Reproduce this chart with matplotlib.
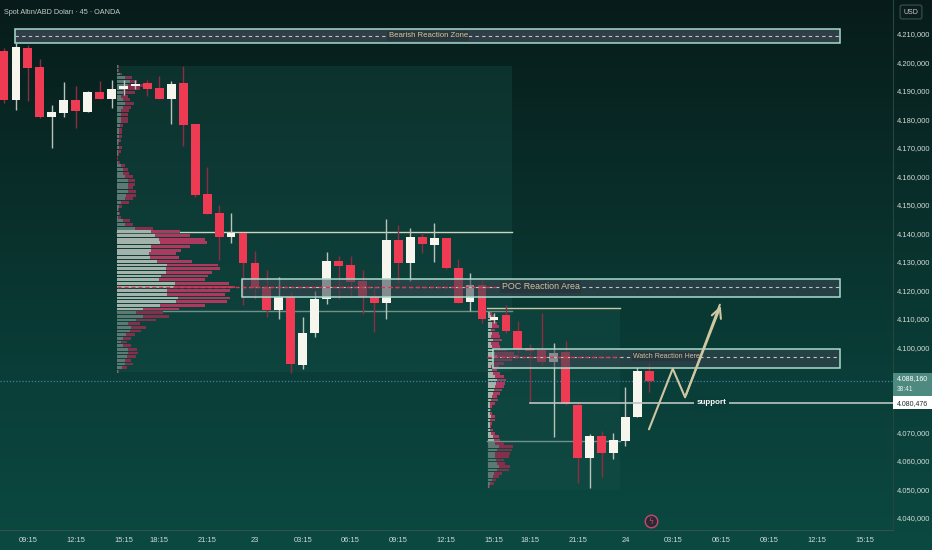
import numpy as np
import matplotlib
matplotlib.use("Agg")
from matplotlib import pyplot as plt
from matplotlib.patches import Rectangle
from matplotlib.colors import LinearSegmentedColormap
from matplotlib.transforms import blended_transform_factory

plt.rcParams['font.family'] = ['Liberation Sans', 'DejaVu Sans']

# XAUUSD 45m candles (OANDA)
opens = [4204.1, 4186.8, 4205.2, 4198.3, 4180.7, 4182.4, 4186.8, 4182.7, 4189.7, 4187.2,
         4190.6, 4191.7, 4192.9, 4191.0, 4187.2, 4192.9, 4178.3, 4153.7, 4147.0, 4138.6,
         4140.0, 4129.5, 4121.0, 4113.1, 4117.7, 4093.6, 4104.9, 4116.9, 4130.3, 4128.9,
         4123.2, 4117.6, 4115.4, 4137.6, 4129.7, 4138.8, 4135.9, 4138.2, 4127.9, 4115.8,
         4121.8, 4109.5, 4111.3, 4105.8, 4099.6, 4099.0, 4094.9, 4098.2, 4079.7, 4061.0,
         4068.8, 4062.7, 4067.1, 4075.4, 4091.7]
highs = [4205.2, 4206.8, 4206.1, 4201.2, 4185.1, 4193.2, 4191.7, 4190.0, 4193.5, 4193.8,
         4193.8, 4193.8, 4193.8, 4195.2, 4193.5, 4198.9, 4178.4, 4163.4, 4149.9, 4147.0,
         4140.1, 4133.8, 4127.1, 4124.8, 4119.4, 4110.7, 4119.8, 4133.5, 4132.0, 4132.0,
         4127.1, 4121.0, 4145.0, 4142.9, 4141.8, 4140.0, 4143.7, 4138.3, 4130.9, 4125.9,
         4124.2, 4112.0, 4114.8, 4109.2, 4101.1, 4112.1, 4101.4, 4102.3, 4080.8, 4069.5,
         4070.6, 4070.0, 4085.9, 4092.9, 4094.5]
lows = [4185.8, 4183.3, 4186.5, 4180.6, 4169.9, 4181.0, 4177.1, 4182.6, 4187.0, 4184.1,
        4188.6, 4190.7, 4188.2, 4187.0, 4178.4, 4170.8, 4152.7, 4146.6, 4130.6, 4136.7,
        4114.8, 4116.8, 4110.7, 4109.8, 4091.0, 4092.3, 4103.7, 4115.2, 4116.9, 4117.7,
        4111.5, 4105.4, 4109.9, 4122.6, 4123.3, 4133.0, 4130.0, 4127.6, 4115.5, 4112.7,
        4108.6, 4108.5, 4104.9, 4097.9, 4080.8, 4093.7, 4068.6, 4079.8, 4052.2, 4050.4,
        4054.5, 4060.6, 4065.3, 4075.3, 4084.4]
closes = [4186.8, 4205.3, 4198.2, 4180.7, 4182.6, 4186.8, 4183.0, 4189.7, 4187.1, 4190.7,
          4191.7, 4192.4, 4190.7, 4187.2, 4192.4, 4177.9, 4153.5, 4146.8, 4138.6, 4140.2,
          4129.5, 4120.7, 4113.1, 4117.7, 4094.0, 4105.1, 4116.9, 4130.3, 4128.6, 4123.0,
          4117.5, 4115.4, 4137.6, 4129.7, 4138.8, 4136.1, 4138.2, 4127.7, 4115.6, 4121.8,
          4109.9, 4110.6, 4105.7, 4099.4, 4098.7, 4094.9, 4098.1, 4079.9, 4061.0, 4068.8,
          4062.7, 4067.4, 4075.6, 4091.7, 4088.16]

time_ticks = [2, 6, 10, 13, 17, 21, 25, 29, 33, 37, 41, 44, 48, 52, 56, 60, 64, 68, 72]
time_labels = ['09:15', '12:15', '15:15', '18:15', '21:15', '23', '03:15', '06:15', '09:15',
               '12:15', '15:15', '18:15', '21:15', '24', '03:15', '06:15', '09:15', '12:15', '15:15']
# 4.080,000 sits under the support price label, so it is not shown
price_ticks = [4040, 4050, 4060, 4070, 4090, 4100, 4110, 4120, 4130, 4140, 4150,
               4160, 4170, 4180, 4190, 4200, 4210]

# session volume profiles, top row first (up = gray, down = red)
vp1_up = [3, 3, 8, 23, 40, 33, 23, 18, 13, 18, 23, 18, 13, 13, 13, 13, 8, 6, 6, 6, 6, 3, 6, 3, 4,
          1, 3, 13, 18, 18, 23, 33, 33, 33, 33, 28, 23, 13, 6, 3, 5, 3, 18, 23, 53, 101, 113, 126,
          128, 103, 103, 96, 98, 121, 150, 148, 146, 133, 126, 175, 170, 151, 150, 183, 178, 128,
          78, 58, 78, 56, 33, 43, 38, 28, 18, 13, 18, 33, 33, 30, 23, 23, 16, 3]
vp1_dn = [2, 3, 8, 23, 20, 45, 47, 35, 20, 20, 27, 23, 23, 20, 20, 20, 10, 10, 10, 10, 7, 3, 8, 10,
          2, 2, 5, 10, 15, 18, 25, 20, 20, 15, 25, 28, 25, 23, 10, 3, 3, 10, 20, 25, 55, 87, 105,
          137, 143, 115, 90, 82, 88, 104, 154, 162, 140, 140, 139, 161, 183, 189, 173, 157, 152,
          135, 108, 80, 78, 62, 37, 43, 35, 25, 25, 17, 25, 27, 31, 28, 20, 25, 14, 3]
vp2_up = [8, 10, 10, 13, 13, 10, 13, 10, 16, 10, 13, 18, 23, 28, 18, 13, 10, 13, 16, 23, 28, 26,
          23, 18, 16, 13, 10, 8, 6, 6, 8, 10, 8, 6, 6, 8, 10, 16, 18, 23, 33, 28, 23, 23, 26, 28,
          33, 28, 18, 16, 13, 8, 3]
vp2_dn = [5, 8, 13, 15, 20, 13, 20, 28, 27, 23, 25, 40, 55, 65, 55, 35, 23, 15, 22, 25, 28, 27,
          25, 25, 22, 15, 20, 15, 7, 4, 5, 13, 15, 7, 4, 8, 13, 17, 20, 25, 43, 45, 45, 40, 24, 25,
          35, 35, 25, 17, 13, 10, 3]

last_price = 4088.16
support_price = 4080.476


def fmt_price(v):
    s = f"{v:,.3f}"
    return s.replace(',', '#').replace('.', ',').replace('#', '.')


def draw_profile(ax, x0, top, bottom, ups, dns, va_lo, va_hi, bar_h, scale):
    levels = np.linspace(top, bottom, len(ups))
    ups = np.array(ups) / scale
    dns = np.array(dns) / scale
    in_va = (levels >= va_lo) & (levels <= va_hi)
    gray = np.where(in_va, '#a3b3aa', '#5c7a73')
    red = np.where(in_va, '#ab3a5e', '#83304d')
    ax.barh(levels, ups, left=x0, height=bar_h, color=gray, lw=0, zorder=2)
    ax.barh(levels, dns, left=x0 + ups, height=bar_h, color=red, lw=0, zorder=2)
    return levels[np.argmax(ups + dns)]


def zone(ax, x0, x1, y0, y1, label, tx, fs, tcol, mid=None, alpha=0.6):
    ax.add_patch(Rectangle((x0, y0), x1 - x0, y1 - y0, fc='#3a4652', ec='none', alpha=alpha, zorder=4))
    ax.add_patch(Rectangle((x0, y0), x1 - x0, y1 - y0, fc='none', ec='#a6dccb', lw=1.1, zorder=5))
    ym = (y0 + y1) / 2 if mid is None else mid
    ax.plot([x0, x1], [ym, ym], color='#b9c9c6', lw=0.8, ls=(0, (3, 3)), zorder=5)
    ax.text(tx, ym, label, ha='center', va='center', fontsize=fs, color=tcol, zorder=6,
            bbox=dict(boxstyle='square,pad=0.15', fc='#28373e', ec='none'))


fig = plt.figure(figsize=(9.32, 5.5), dpi=100)

# background gradient
bg = fig.add_axes([0, 0, 1, 1], zorder=-10)
cmap = LinearSegmentedColormap.from_list('tv', ['#071c1a', '#092d29', '#0a3d37', '#0b4941'])
bg.imshow(np.linspace(0, 1, 256).reshape(-1, 1), aspect='auto', cmap=cmap, extent=[0, 1, 0, 1])
bg.axis('off')

ax = fig.add_axes([0, 20 / 550, 893 / 932, 530 / 550])
ax.set_facecolor('none')
ax.set_xlim(-0.335, 74.39)
ax.set_ylim(4035.78, 4221.94)

# profile backgrounds
ax.add_patch(Rectangle((9.46, 4091.3), 42.5 - 9.46, 4198.76 - 4091.3, fc='#17524b', alpha=0.35, lw=0, zorder=1))
ax.add_patch(Rectangle((40.42, 4049.8), 51.55 - 40.42, 4113.76 - 4049.8, fc='#17524b', alpha=0.35, lw=0, zorder=1))

# value area lines
ax.plot([9.46, 42.5], [4140.56, 4140.56], color='#c9d6c2', lw=1.0, zorder=1.5)
ax.plot([9.46, 42.5], [4112.7, 4112.7], color='#6f918b', lw=1.0, zorder=1.5)
ax.plot([40.42, 51.55], [4113.65, 4113.65], color='#c9c8a6', lw=1.0, zorder=1.5)
ax.plot([40.42, 51.55], [4067.0, 4067.0], color='#6f918b', lw=1.0, zorder=1.5)

poc1 = draw_profile(ax, 9.46, 4198.5, 4091.5, vp1_up, vp1_dn, 4112.7, 4140.6, 1.0, 35.85)
poc2 = draw_profile(ax, 40.46, 4111.9, 4051.0, vp2_up, vp2_dn, 4067.0, 4113.7, 0.9, 35.85)

# candles
idx = np.arange(len(opens))
o = np.array(opens)
c = np.array(closes)
up = c >= o
wick_col = np.where(up, '#b9c3bb', '#8e2c42')
body_col = np.where(up, '#f6f6ee', '#ee3a52')
ax.vlines(idx, lows, highs, colors=wick_col, lw=1.0, zorder=3)
ax.bar(idx, np.maximum(np.abs(c - o), 0.4), bottom=np.minimum(o, c), width=0.74,
       color=body_col, lw=0, zorder=3.5)

# zones
zone(ax, 0.92, 69.96, 4206.95, 4211.65, 'Bearish Reaction Zone', 35.5, 5.6, '#d6c79a', alpha=0.8)
zone(ax, 19.94, 69.96, 4117.73, 4123.94, 'POC Reaction Area', 44.9, 6.4, '#cbc6a3', mid=poc1)
zone(ax, 40.95, 69.96, 4092.79, 4099.25, 'Watch Reaction Here', 55.44, 5.0, '#cbc3a2', mid=poc2)

# POC extensions
ax.plot([9.46, 42.5], [poc1, poc1], color='#d7384f', lw=1.0, ls=(0, (3, 2)), zorder=5.5)
ax.plot([40.42, 51.55], [poc2, poc2], color='#d7384f', lw=1.0, ls=(0, (3, 2)), zorder=5.5)

# current price
ax.axhline(last_price, color='#3d7fb3', lw=0.9, ls=(0, (1, 1.5)), zorder=2.5)

# support line
ax.plot([44.0, 74.39], [support_price, support_price], color='#bcc4c2', lw=1.2, zorder=5)
ax.text(59.2, support_price, 'support', ha='center', va='center', fontsize=5.8, fontweight='bold',
        color='white', zorder=6, bbox=dict(boxstyle='square,pad=0.3', fc='#0a3d37', ec='none'))

# projected path
path_x = [53.97, 55.96, 56.99, 59.9]
path_y = [4071.15, 4092.44, 4082.39, 4114.9]
ax.plot(path_x, path_y, color='#cfc6a2', lw=1.5, zorder=6, solid_capstyle='round')
ax.annotate('', xy=(60.06, 4115.41), xytext=(56.99, 4082.39),
            arrowprops=dict(arrowstyle='->,head_length=0.7,head_width=0.35', color='#cfc6a2', lw=1.5),
            zorder=6)

# lightning marker
ax.plot([54.1], [4038.9], 'o', ms=9, mfc='#2a2a36', mec='#c9476c', mew=1.0, zorder=6, clip_on=False)
ax.text(54.1, 4038.9, '\u03df', ha='center', va='center', fontsize=5.5, color='#c9476c',
        family='DejaVu Sans', zorder=7)

# axes styling
for s in ['top', 'left']:
    ax.spines[s].set_visible(False)
ax.spines['right'].set_color('#26453f')
ax.spines['bottom'].set_color('#31524c')
ax.yaxis.tick_right()
ax.set_yticks(price_ticks)
ax.set_yticklabels([fmt_price(v) for v in price_ticks])
ax.set_xticks(time_ticks)
ax.set_xticklabels(time_labels)
ax.tick_params(axis='y', length=0, pad=3, labelsize=5.4, labelcolor='#d3dbd8')
ax.tick_params(axis='x', length=0, pad=5, labelsize=5.4, labelcolor='#d3dbd8')

# price labels on the scale
tr = blended_transform_factory(ax.transAxes, ax.transData)
w = 39 / 893
ax.add_patch(Rectangle((1.0, last_price - 5.3), w, 7.9, transform=tr, fc='#4f8a81', ec='none',
                       clip_on=False, zorder=8))
ax.text(1.0 + 4 / 893, last_price + 0.7, fmt_price(last_price), transform=tr, fontsize=5.0,
        color='white', va='center', zorder=9, clip_on=False)
ax.text(1.0 + 4 / 893, last_price - 2.9, '38:41', transform=tr, fontsize=4.8,
        color='#e5eeec', va='center', zorder=9, clip_on=False)
ax.add_patch(Rectangle((1.0, support_price - 2.2), w, 4.4, transform=tr, fc='white', ec='none',
                       clip_on=False, zorder=8))
ax.text(1.0 + 4 / 893, support_price - 0.2, fmt_price(support_price), transform=tr, fontsize=5.0,
        color='#1c2b2a', va='center', zorder=9, clip_on=False)

# header texts
fig.text(4 / 932, 1 - 12 / 550, 'Spot Altın/ABD Doları · 45 · OANDA', fontsize=5.2,
         color='#c7cdc9', va='center')
fig.text(911 / 932, 1 - 12 / 550, 'USD', fontsize=5.0, color='#c7cdc9', va='center', ha='center',
         bbox=dict(boxstyle='round,pad=0.5,rounding_size=0.3', fc='#0b1d1c', ec='#3c5352', lw=0.8))

fig.savefig('out.png', dpi=100)
